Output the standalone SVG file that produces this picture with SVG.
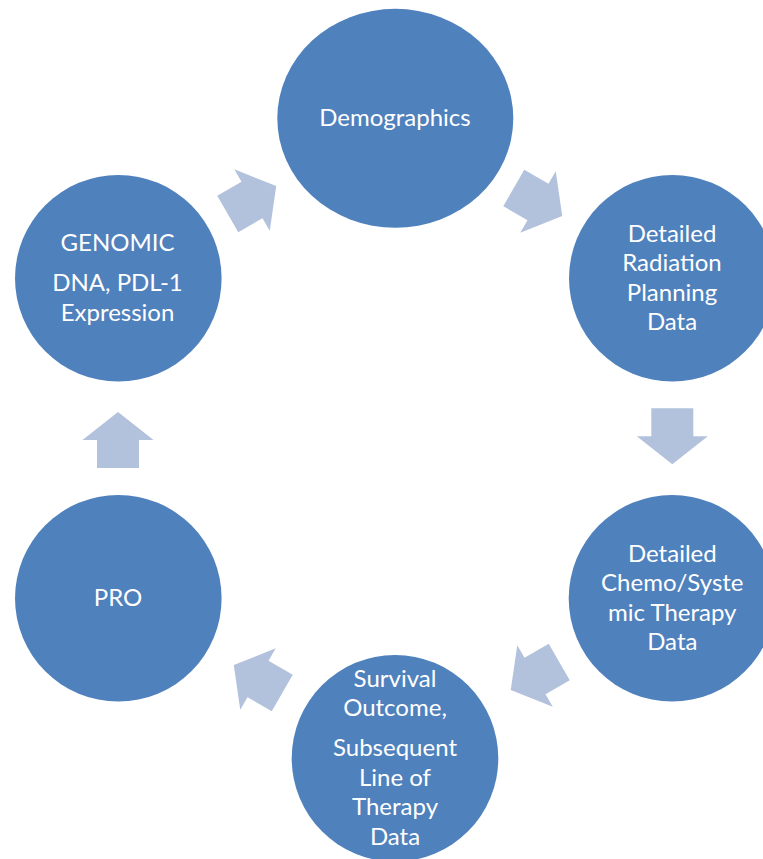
<svg xmlns="http://www.w3.org/2000/svg" width="763" height="859" viewBox="0 0 763 859">
<style>
.node{fill:#4F81BD}
.lbl{fill:#FFFFFF;font-family:Lato,"Open Sans","Liberation Sans",sans-serif;font-size:24px;text-anchor:middle}
.arr{fill:#B2C2DD}
</style>
<defs>
<path id="blk" d="M-28,-21 L0,-21 L0,-35.5 L28,0 L0,35.5 L0,21 L-28,21 Z"/>
</defs>
<rect width="763" height="859" fill="#FFFFFF"/>
<g id="connectors">
<use href="#blk" class="arr" transform="translate(252,200) rotate(-30)"/>
<use href="#blk" class="arr" transform="translate(538,202) rotate(30)"/>
<use href="#blk" class="arr" transform="translate(672.3,436.3) rotate(90)"/>
<use href="#blk" class="arr" transform="translate(535,676) rotate(150)"/>
<use href="#blk" class="arr" transform="translate(258,679) rotate(210)"/>
<use href="#blk" class="arr" transform="translate(118,440) rotate(-90)"/>
</g>
<g id="demographics">
<ellipse class="node" cx="395.3" cy="118.3" rx="118" ry="109.5"/>
<text class="lbl" x="395" y="126">Demographics</text>
</g>
<g id="radiation">
<circle class="node" cx="672.3" cy="278.3" r="103.3"/>
<text class="lbl" x="672" y="241.5">Detailed</text>
<text class="lbl" x="672" y="271">Radiation</text>
<text class="lbl" x="672" y="300.5">Planning</text>
<text class="lbl" x="672" y="330">Data</text>
</g>
<g id="chemo">
<circle class="node" cx="672" cy="598.3" r="103.3"/>
<text class="lbl" x="672.3" y="561.5">Detailed</text>
<text class="lbl" x="672.3" y="591">Chemo/Syste</text>
<text class="lbl" x="672.3" y="620.5">mic Therapy</text>
<text class="lbl" x="672.3" y="650">Data</text>
</g>
<g id="survival">
<circle class="node" cx="395" cy="758.3" r="103.3"/>
<text class="lbl" x="395" y="686.5">Survival</text>
<text class="lbl" x="395" y="716">Outcome,</text>
<text class="lbl" x="395" y="756">Subsequent</text>
<text class="lbl" x="395" y="785.5">Line of</text>
<text class="lbl" x="395" y="815">Therapy</text>
<text class="lbl" x="395" y="844.5">Data</text>
</g>
<g id="pro">
<circle class="node" cx="118.3" cy="598.3" r="103.3"/>
<text class="lbl" x="118" y="606">PRO</text>
</g>
<g id="genomic">
<circle class="node" cx="118.3" cy="278.3" r="103.3"/>
<text class="lbl" x="117.5" y="251">GENOMIC</text>
<text class="lbl" x="117.5" y="291">DNA, PDL-1</text>
<text class="lbl" x="117.5" y="320.5">Expression</text>
</g>
</svg>
